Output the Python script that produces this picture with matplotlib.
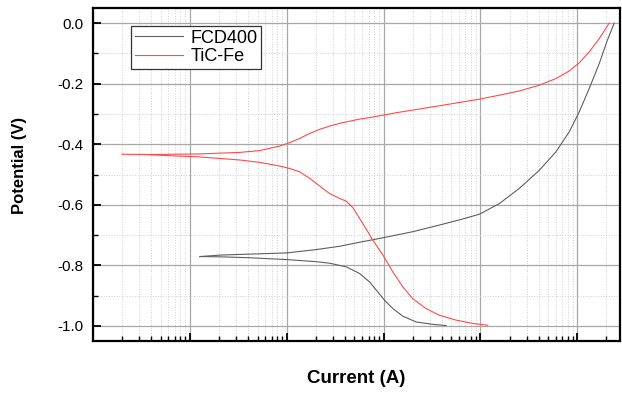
import numpy as np
import matplotlib.pyplot as plt
from matplotlib.ticker import LogLocator, MultipleLocator, NullFormatter

plt.rcParams['font.family'] = ['Liberation Sans', 'DejaVu Sans']

# FCD400 - anodic (upper) and cathodic (lower) branches, current in A, potential in V
fcd_anodic_i = [1.27e-7, 2.12e-7, 4.16e-7, 1.0e-6, 2.02e-6, 3.52e-6, 5.23e-6, 9.84e-6,
                2.0e-5, 3.78e-5, 6.57e-5, 9.8e-5, 1.57e-4, 2.52e-4, 4.06e-4, 6.03e-4,
                8.27e-4, 1.05e-3, 1.33e-3, 1.69e-3, 2.05e-3, 2.41e-3]
fcd_anodic_v = [-0.771, -0.766, -0.763, -0.759, -0.748, -0.737, -0.726, -0.709,
                -0.689, -0.667, -0.647, -0.631, -0.596, -0.546, -0.486, -0.425,
                -0.359, -0.293, -0.216, -0.133, -0.056, 0.0]
fcd_cathodic_i = [1.27e-7, 2.12e-7, 4.16e-7, 1.0e-6, 2.02e-6, 2.77e-6, 4.12e-6, 5.66e-6,
                  7.18e-6, 8.73e-6, 1.02e-5, 1.25e-5, 1.58e-5, 2.17e-5, 3.22e-5, 4.43e-5]
fcd_cathodic_v = [-0.771, -0.772, -0.775, -0.781, -0.788, -0.793, -0.805, -0.827,
                  -0.855, -0.888, -0.915, -0.943, -0.968, -0.987, -0.995, -0.999]

# TiC-Fe
tic_anodic_i = [1.99e-8, 3.87e-8, 1.27e-7, 3.27e-7, 5.27e-7, 8.47e-7, 1.07e-6, 1.36e-6,
                1.73e-6, 2.19e-6, 2.77e-6, 3.52e-6, 4.46e-6, 5.66e-6, 7.18e-6, 9.10e-6,
                1.35e-5, 3.78e-5, 9.8e-5, 1.57e-4, 2.52e-4, 4.06e-4, 6.03e-4, 8.27e-4,
                1.05e-3, 1.33e-3, 1.69e-3, 2.14e-3]
tic_anodic_v = [-0.433, -0.434, -0.432, -0.427, -0.421, -0.406, -0.395, -0.381,
                -0.364, -0.351, -0.340, -0.331, -0.324, -0.317, -0.312, -0.306,
                -0.296, -0.273, -0.251, -0.238, -0.224, -0.205, -0.183, -0.158,
                -0.131, -0.095, -0.051, 0.0]
tic_cathodic_i = [3.87e-8, 1.27e-7, 3.27e-7, 5.27e-7, 8.47e-7, 1.07e-6, 1.36e-6, 1.73e-6,
                  2.19e-6, 2.77e-6, 3.52e-6, 4.12e-6, 4.83e-6, 6.12e-6, 7.76e-6, 9.84e-6,
                  1.25e-5, 1.58e-5, 2.0e-5, 2.75e-5, 3.78e-5, 5.61e-5, 8.34e-5, 1.19e-4]
tic_cathodic_v = [-0.435, -0.442, -0.452, -0.460, -0.472, -0.480, -0.491, -0.513,
                  -0.538, -0.563, -0.579, -0.588, -0.610, -0.662, -0.717, -0.766,
                  -0.822, -0.871, -0.910, -0.943, -0.965, -0.981, -0.992, -0.998]

gray = '#5e5e5e'
red = '#ff4a4a'

fig = plt.figure(figsize=(6.22, 3.94), dpi=100)
ax = fig.add_axes([0.1495, 0.1345, 0.8475, 0.8452])

ax.plot(fcd_anodic_i, fcd_anodic_v, color=gray, lw=0.8, label='FCD400')
ax.plot(fcd_cathodic_i, fcd_cathodic_v, color=gray, lw=0.8)
ax.plot(tic_anodic_i, tic_anodic_v, color=red, lw=0.8, label='TiC-Fe')
ax.plot(tic_cathodic_i, tic_cathodic_v, color=red, lw=0.8)

ax.set_xscale('log')
ax.set_xlim(1e-8, 10 ** -2.557)
ax.set_ylim(-1.05, 0.05)

ax.xaxis.set_major_locator(LogLocator(base=10, numticks=20))
ax.xaxis.set_minor_locator(LogLocator(base=10, subs=np.arange(2, 10), numticks=20))
ax.xaxis.set_major_formatter(NullFormatter())
ax.xaxis.set_minor_formatter(NullFormatter())
ax.yaxis.set_major_locator(MultipleLocator(0.2))
ax.yaxis.set_minor_locator(MultipleLocator(0.1))
ax.yaxis.set_major_formatter(plt.FuncFormatter(lambda v, p: f'{v:.1f}'.replace('-0.0', '0.0')))

ax.grid(which='major', color='#a8a8a8', lw=0.9, ls='-')
ax.grid(which='minor', color='#cfcfcf', lw=0.7, ls=':')
ax.set_axisbelow(True)

ax.tick_params(which='major', direction='in', length=6, width=1.3, labelsize=11, pad=7)
ax.tick_params(which='minor', direction='in', length=3.5, width=1.0)
for s in ax.spines.values():
    s.set_linewidth(1.6)
    s.set_color('black')

ax.set_xlabel('Current (A)', fontsize=13.5, fontweight='bold', labelpad=14)
ax.set_ylabel('Potential (V)', fontsize=12, fontweight='bold')
ax.yaxis.set_label_coords(-0.125, 0.526)

leg = ax.legend(loc='upper left', bbox_to_anchor=(0.072, 0.946), fontsize=13,
                handlelength=2.7, fancybox=False, framealpha=1, borderpad=0.2,
                labelspacing=0.1, handletextpad=0.4, borderaxespad=0)
leg.get_frame().set_edgecolor('#333333')
leg.get_frame().set_linewidth(0.9)

fig.savefig('out.png', dpi=100)
